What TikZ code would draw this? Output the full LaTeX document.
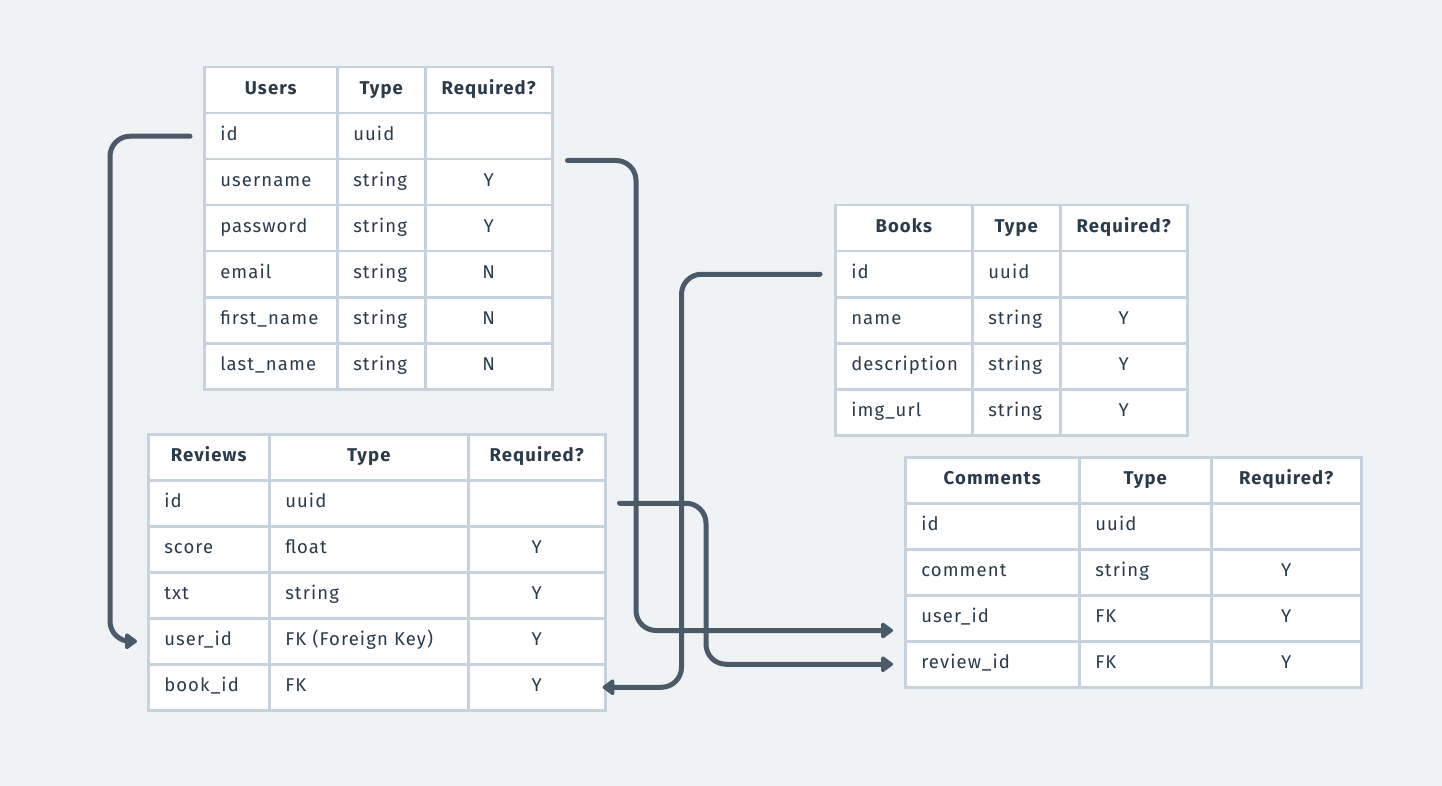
\documentclass[tikz,border=0pt]{standalone}
\usepackage{fontspec}
\setmainfont{Fira Sans}[LetterSpace=6]
\usetikzlibrary{arrows.meta}
\definecolor{bgc}{HTML}{EFF3F6}
\definecolor{gridc}{HTML}{C6D2DD}
\definecolor{txtc}{HTML}{2A3B4C}
\definecolor{connc}{HTML}{4B5A69}
\tikzset{
  cell/.style={draw=gridc, fill=white, line width=2.5pt, inner xsep=16pt, inner ysep=0pt,
    minimum height=46pt, text height=13pt, text depth=4pt, text=txtc, font=\fontsize{18.5}{20}\selectfont, anchor=north west},
  head/.style={font=\fontsize{18.5}{20}\selectfont\bfseries, align=center},
  conn/.style={draw=connc, line width=5pt, line cap=round, rounded corners=20pt,
    -{Triangle[length=13pt,width=18pt,round]}},
}
% #1 name, #2 x0, #3 y0, #4 w1, #5 w2, #6 w3, #7 rows a/b/c
\newcommand\dbtable[7]{%
  \foreach \a/\b/\c [count=\i from 0] in {#7}{%
    \ifnum\i=0
      \node[cell, head, text width=#4pt-32pt] (#1-\i-1) at (#2,#3+\i*46) {\a};
      \node[cell, head, text width=#5pt-32pt] (#1-\i-2) at (#2+#4,#3+\i*46) {\b};
      \node[cell, head, text width=#6pt-32pt] (#1-\i-3) at (#2+#4+#5,#3+\i*46) {\c};
    \else
      \node[cell, text width=#4pt-32pt, align=left] (#1-\i-1) at (#2,#3+\i*46) {\a};
      \node[cell, text width=#5pt-32pt, align=left] (#1-\i-2) at (#2+#4,#3+\i*46) {\b};
      \node[cell, text width=#6pt-32pt, align=center] (#1-\i-3) at (#2+#4+#5,#3+\i*46) {\c};
    \fi
  }%
}
\begin{document}
\begin{tikzpicture}[x=1pt,y=-1pt]
\fill[bgc] (0,0) rectangle (1442,786);
\useasboundingbox (0,0) rectangle (1442,786);

\dbtable{u}{203}{66}{133}{88}{127}{Users/Type/Required?, id/uuid/{}, username/string/Y, password/string/Y, email/string/N, first\_name/string/N, last\_name/string/N}
\dbtable{b}{834}{204}{137}{88}{127}{Books/Type/Required?, id/uuid/{}, name/string/Y, description/string/Y, img\_url/string/Y}
\dbtable{r}{147}{433}{121}{199}{137}{Reviews/Type/Required?, id/uuid/{}, score/float/Y, txt/string/Y, user\_id/FK (Foreign Key)/Y, book\_id/FK/Y}
\dbtable{c}{904}{456}{174}{132}{150}{Comments/Type/Required?, id/uuid/{}, comment/string/Y, user\_id/FK/Y, review\_id/FK/Y}

% Users.id -> Reviews.user_id
\draw[conn] ([xshift=-13pt]u-1-1.west) -| ([xshift=-37pt]r-4-1.west) -- ([xshift=-10pt]r-4-1.west);
% Users -> Comments.user_id
\draw[conn] ([xshift=14pt]u-1-3.south east) -| ([xshift=-268pt,yshift=12pt]c-3-1.south west) -- ([xshift=-11pt,yshift=12pt]c-3-1.south west);
% Books.id -> Reviews.book_id
\draw[conn] ([xshift=-14pt]b-1-1.west) -| ([xshift=75pt]r-5-3.east) -- ([xshift=-4pt]r-5-3.east);
% Reviews.id -> Comments.review_id
\draw[conn] ([xshift=13pt]r-1-3.east) -| ([xshift=-198pt]c-4-1.west) -- ([xshift=-11pt]c-4-1.west);
\end{tikzpicture}
\end{document}
